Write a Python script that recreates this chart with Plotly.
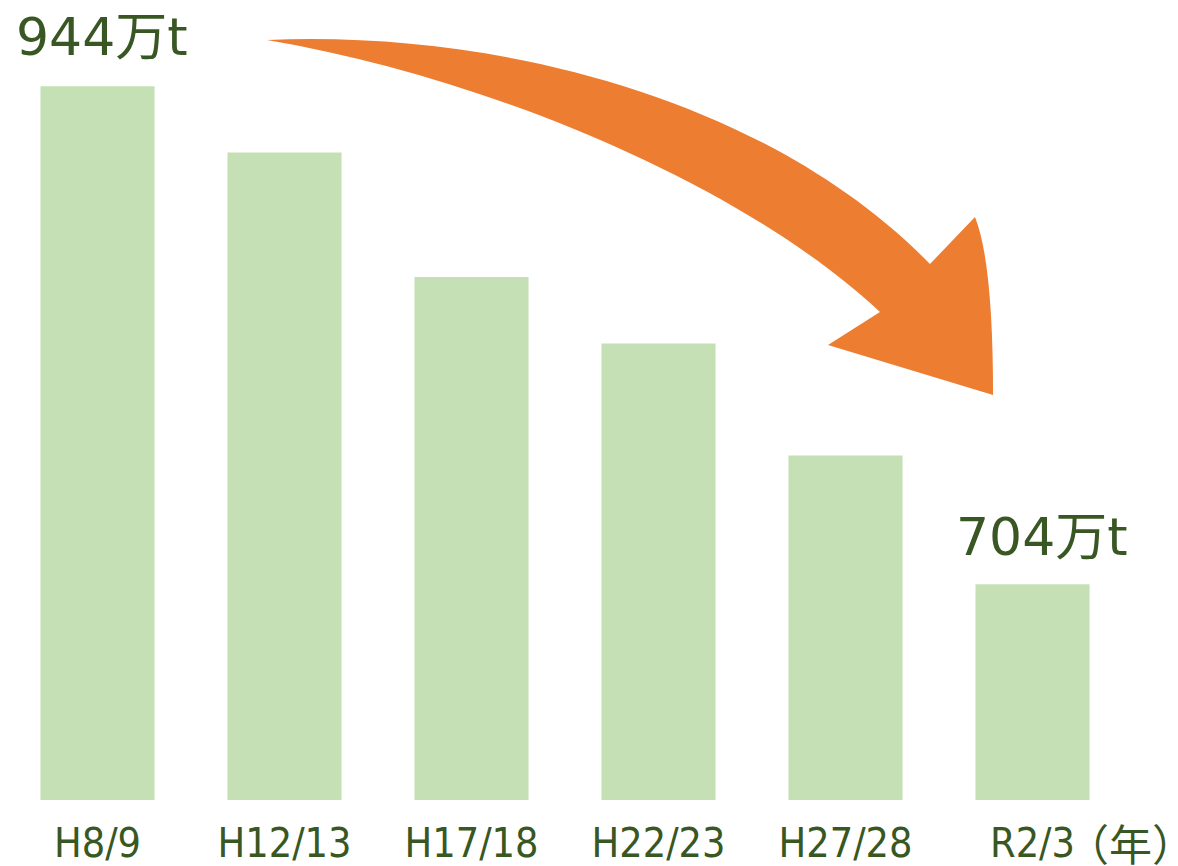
import plotly.graph_objects as go

categories = ["H8/9", "H12/13", "H17/18", "H22/23", "H27/28", "R2/3"]
values = [944, 912, 852, 820, 766, 704]
first_label = "944万t"
last_label = "704万t"
unit_label = "（年）"

BAR = "#c5e0b4"
TXT = "#385723"
ORANGE = "#ed7d31"

W, H = 1178, 866
ML, MR, MT, MB = 4, 52, 53, 66
PW, PH = W - ML - MR, H - MT - MB


def p(x, y):
    """page pixel -> paper coordinate string"""
    return f"{(x - ML) / PW:.4f},{(H - MB - y) / PH:.4f}"


# decorative curved arrow outline (drawn with bezier curves)
path = (
    f"M {p(267, 40)} "
    f"C {p(500, 30)} {p(770, 100)} {p(930, 264)} "
    f"L {p(975, 217)} "
    f"Q {p(993, 262)} {p(993, 395)} "
    f"L {p(828, 345)} L {p(880, 312)} "
    f"C {p(750, 190)} {p(500, 80)} {p(267, 40)} Z"
)

fig = go.Figure(
    go.Bar(x=categories, y=values, marker_color=BAR, marker_line_width=0,
           hoverinfo="skip")
)

fig.add_shape(type="path", path=path, xref="paper", yref="paper",
              fillcolor=ORANGE, line_width=0, layer="above")

lab_font = "DejaVu Sans, Noto Sans CJK JP, sans-serif"
cjk = "Noto Sans CJK JP, Noto Sans, sans-serif"
fig.add_annotation(x=categories[0], y=values[0], text=first_label,
                   showarrow=False, yanchor="bottom", yshift=18, xshift=4,
                   borderpad=0,
                   font=dict(family=lab_font, size=52, color=TXT))
fig.add_annotation(x=categories[-1], y=values[-1], text=last_label,
                   showarrow=False, yanchor="bottom", yshift=16, xshift=9,
                   borderpad=0,
                   font=dict(family=lab_font, size=52, color=TXT))
fig.add_annotation(x=categories[-1], y=0, yref="paper", text=unit_label,
                   showarrow=False, xanchor="left", yanchor="top", xshift=32,
                   yshift=-10, borderpad=0,
                   font=dict(family=cjk, size=43, color=TXT))

fig.update_layout(
    width=W, height=H,
    margin=dict(l=ML, r=MR, t=MT, b=MB, autoexpand=False),
    paper_bgcolor="white", plot_bgcolor="white",
    bargap=0.39,
    showlegend=False,
    xaxis=dict(showgrid=False, showline=False, zeroline=False, ticks="",
               automargin=False, range=[-0.5, len(categories) - 0.5],
               ticklabelstandoff=15, fixedrange=True,
               tickfont=dict(family="DejaVu Sans Condensed, Liberation Sans Narrow, sans-serif",
                             size=41, color=TXT)),
    yaxis=dict(visible=False, range=[600, 600 + PH / 2.075], automargin=False,
               fixedrange=True),
)

fig.write_html("out.html", config={"displayModeBar": False},
               post_script="document.body.style.margin='0';document.body.style.overflow='hidden';")
